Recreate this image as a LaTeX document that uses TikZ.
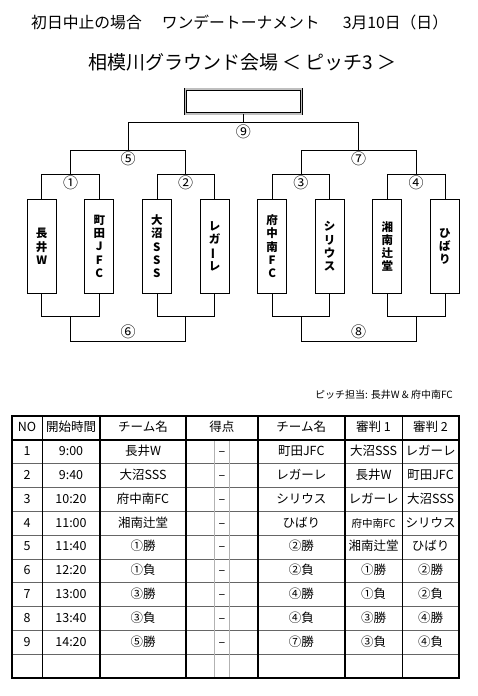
\documentclass[tikz,border=0pt]{standalone}
\usepackage{fontspec}
\setmainfont{Noto Sans CJK JP}
\usetikzlibrary{positioning,calc}

\begin{document}
\begin{tikzpicture}[x=1pt,y=-1pt,
  node distance=27.7pt,
  team/.style={draw,line width=0.9pt,minimum width=29pt,minimum height=94pt,
              inner sep=0pt,align=center,font=\bfseries\fontsize{11.5}{13.2}\selectfont},
  champ/.style={draw,double=black!25,double distance=1.6pt,line width=0.7pt,
              minimum width=116pt,minimum height=24.5pt,inner sep=0pt},
  wire/.style={line width=0.7pt},
  num/.style={inner sep=0pt,font=\fontsize{15}{15}\selectfont},
  cell/.style={inner sep=0pt,text height=0.88em,text depth=0.12em,
              font=\fontsize{12.5}{14}\selectfont},
  thickrule/.style={line width=2pt},
  thinrule/.style={line width=0.8pt},
  rowrule/.style={line width=1pt,black!60},
  scorerule/.style={line width=1.2pt,black!30}]
\useasboundingbox (0,0) rectangle (477,696);

% titles
\node[anchor=west,inner sep=0pt,font=\fontsize{15.8}{18}\selectfont] (title) at (31,22)
  {初日中止の場合\hspace{20pt}ワンデートーナメント\hspace{23pt}3月10日（日）};
\node[anchor=west,inner sep=0pt,font=\fontsize{19}{22}\selectfont] (venue) at (88,62)
  {相模川グラウンド会場 ＜ ピッチ3 ＞};

% teams
\node[team] (nagai) at (41.7,246.3) {長\\井\\W};
\node[team,right=of nagai] (machida) {町\\田\\J\\F\\C};
\node[team,right=of machida] (onuma) {大\\沼\\S\\S\\S};
\node[team,right=of onuma] (regale) {レ\\ガ\\\rotatebox[origin=c]{90}{ー}\\レ};
\node[team,right=of regale] (fuchu) {府\\中\\南\\F\\C};
\node[team,right=of fuchu] (sirius) {シ\\リ\\ウ\\ス};
\node[team,right=of sirius] (shonan) {湘\\南\\辻\\堂};
\node[team,right=of shonan] (hibari) {ひ\\ば\\り};

% upper bracket
\coordinate (m1) at ($(nagai.north)!.5!(machida.north)+(0,-25)$);
\coordinate (m2) at ($(onuma.north)!.5!(regale.north)+(0,-25)$);
\coordinate (m3) at ($(fuchu.north)!.5!(sirius.north)+(0,-25)$);
\coordinate (m4) at ($(shonan.north)!.5!(hibari.north)+(0,-25)$);
\coordinate (m5) at ($(m1)!.5!(m2)+(0,-23.6)$);
\coordinate (m7) at ($(m3)!.5!(m4)+(0,-23.6)$);
\coordinate (m9) at ($(m5)!.5!(m7)+(0,-28.2)$);
\node[champ,above=8pt of m9] (champ) {};

\draw[wire] (nagai.north) |- (m1) -| (machida.north);
\draw[wire] (onuma.north) |- (m2) -| (regale.north);
\draw[wire] (fuchu.north) |- (m3) -| (sirius.north);
\draw[wire] (shonan.north) |- (m4) -| (hibari.north);
\draw[wire] (m1) |- (m5) -| (m2);
\draw[wire] (m3) |- (m7) -| (m4);
\draw[wire] (m5) |- (m9) -| (m7);
\draw[wire] (champ.south) -- (m9);

\node[num,below=1.5pt of m1] (n1) {①};
\node[num,below=1.5pt of m2] (n2) {②};
\node[num,below=1.5pt of m3] (n3) {③};
\node[num,below=1.5pt of m4] (n4) {④};
\node[num,below=1.5pt of m5] (n5) {⑤};
\node[num,below=1.5pt of m7] (n7) {⑦};
\node[num,below=3pt of m9] (n9) {⑨};

% lower bracket
\coordinate (b1) at ($(nagai.south)!.5!(machida.south)+(0,22.4)$);
\coordinate (b2) at ($(onuma.south)!.5!(regale.south)+(0,22.4)$);
\coordinate (b3) at ($(fuchu.south)!.5!(sirius.south)+(0,22.4)$);
\coordinate (b4) at ($(shonan.south)!.5!(hibari.south)+(0,22.4)$);
\coordinate (m6) at ($(b1)!.5!(b2)+(0,25.3)$);
\coordinate (m8) at ($(b3)!.5!(b4)+(0,25.3)$);

\draw[wire] (nagai.south) |- (b1) -| (machida.south);
\draw[wire] (onuma.south) |- (b2) -| (regale.south);
\draw[wire] (fuchu.south) |- (b3) -| (sirius.south);
\draw[wire] (shonan.south) |- (b4) -| (hibari.south);
\draw[wire] (b1) |- (m6) -| (b2);
\draw[wire] (b3) |- (m8) -| (b4);

\node[num,above=2pt of m6] (n6) {⑥};
\node[num,above=2pt of m8] (n8) {⑧};

% schedule
\node[anchor=east,inner sep=0pt,font=\fontsize{10}{12}\selectfont] (duty) at (453,395)
  {ピッチ担当: 長井W \& 府中南FC};

\foreach \r in {2,...,10} \draw[rowrule] (12,{416+23.85*\r}) -- (459,{416+23.85*\r});
\draw[scorerule] (214.5,439.85) -- (214.5,678.35);
\draw[scorerule] (229.5,439.85) -- (229.5,678.35);
\draw[thickrule] (12,439.85) -- (459,439.85);
\foreach \x in {100,186,257.5,345} \draw[thickrule] (\x,416) -- (\x,678.35);
\foreach \x in {42,402} \draw[thinrule] (\x,416) -- (\x,678.35);
\draw[thickrule] (12,416) rectangle (459,678.35);

\node[cell] (hNo) at (27,427.9) {NO};
\node[cell] (hTime) at (71,427.9) {開始時間};
\node[cell] (hTeamA) at (143,427.9) {チーム名};
\node[cell] (hScore) at (221.75,427.9) {得点};
\node[cell] (hTeamB) at (301.25,427.9) {チーム名};
\node[cell] (hRefA) at (373.5,427.9) {審判 1};
\node[cell] (hRefB) at (430.5,427.9) {審判 2};

\foreach \no/\tm/\ta/\tb/\ra/\rb in {
    1/9:00/長井W/町田JFC/大沼SSS/レガーレ,
    2/9:40/大沼SSS/レガーレ/長井W/町田JFC,
    3/10:20/府中南FC/シリウス/レガーレ/大沼SSS,
    4/11:00/湘南辻堂/ひばり/{\fontsize{10.5}{12}\selectfont 府中南FC}/シリウス,
    5/11:40/①勝/②勝/湘南辻堂/ひばり,
    6/12:20/①負/②負/①勝/②勝,
    7/13:00/③勝/④勝/①負/②負,
    8/13:40/③負/④負/③勝/④勝,
    9/14:20/⑤勝/⑦勝/③負/④負}{
  \node[cell] (no\no) at (27,{427.9+23.85*\no}) {\no};
  \node[cell] (time\no) at (71,{427.9+23.85*\no}) {\tm};
  \node[cell] (teamA\no) at (143,{427.9+23.85*\no}) {\ta};
  \node[cell] (dash\no) at (222,{427.9+23.85*\no}) {–};
  \node[cell] (teamB\no) at (301.25,{427.9+23.85*\no}) {\tb};
  \node[cell] (refA\no) at (373.5,{427.9+23.85*\no}) {\ra};
  \node[cell] (refB\no) at (430.5,{427.9+23.85*\no}) {\rb};
}
\end{tikzpicture}
\end{document}
